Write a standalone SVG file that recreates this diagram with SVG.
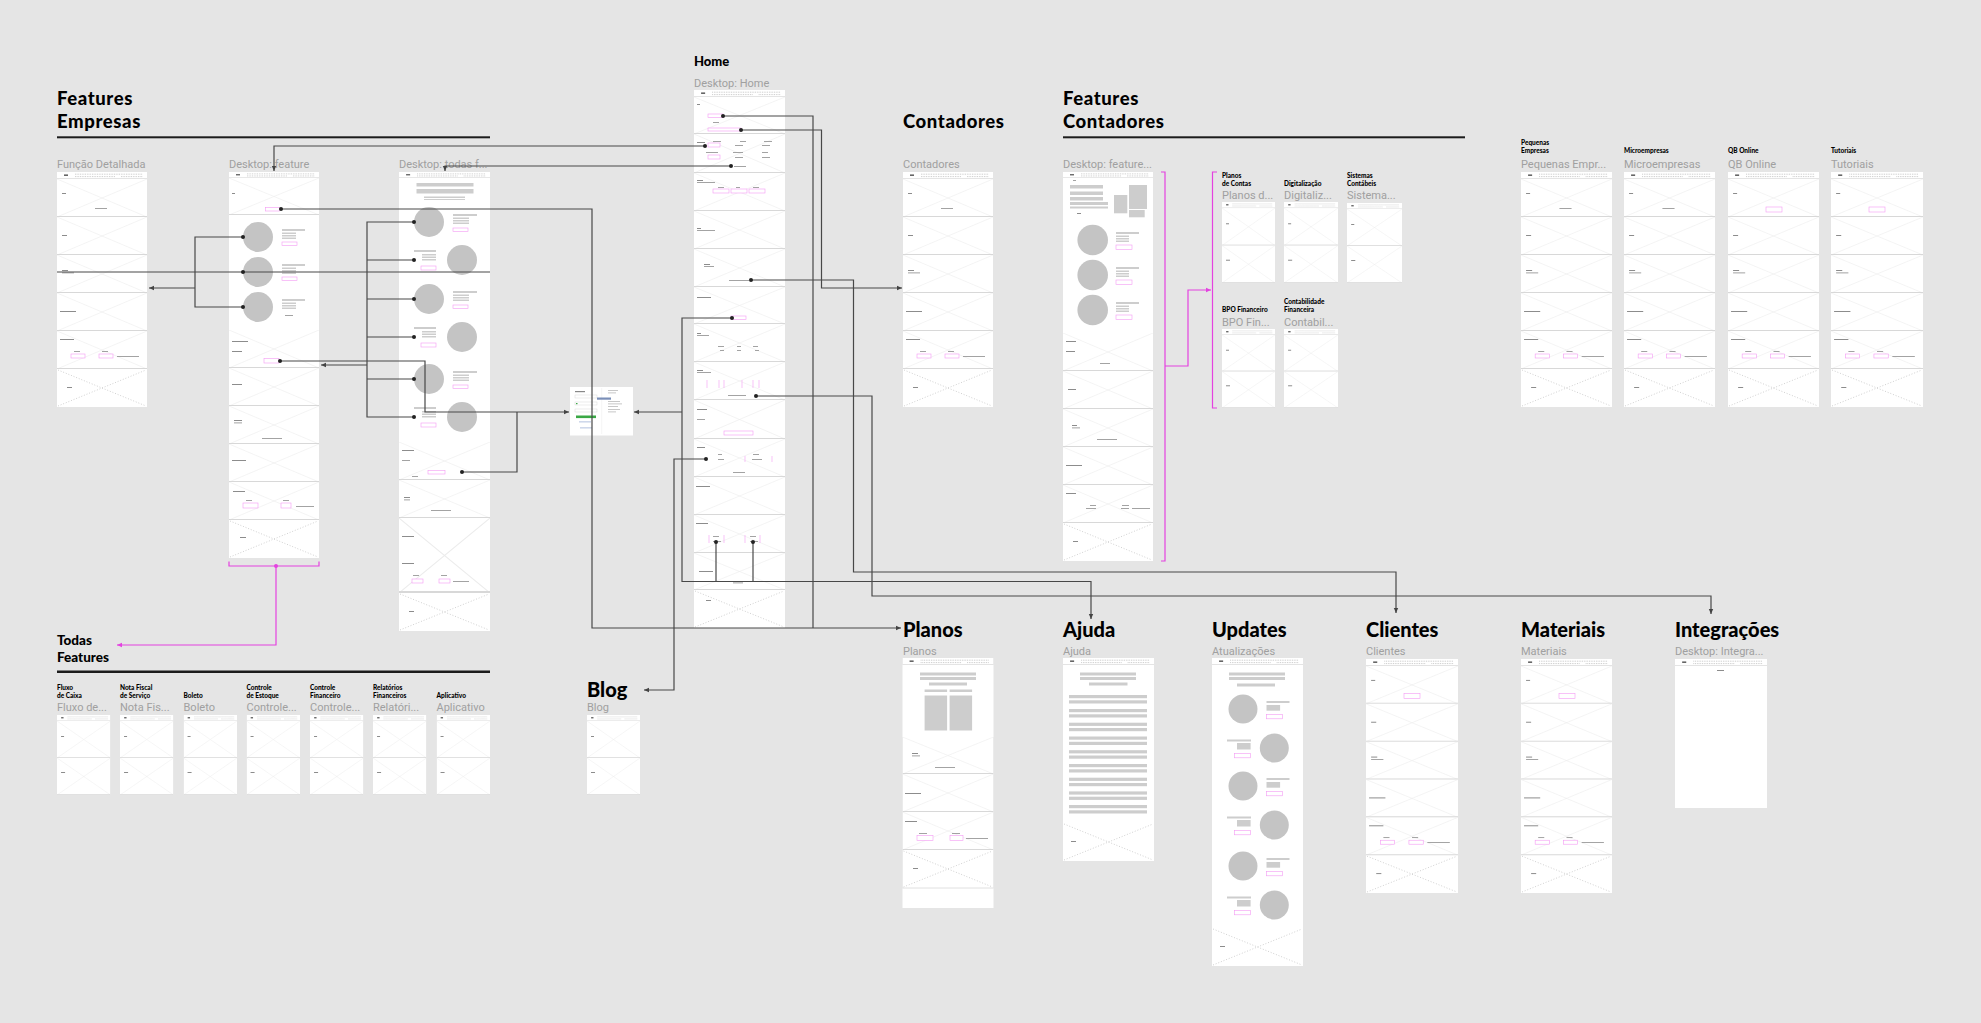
<svg xmlns="http://www.w3.org/2000/svg" width="1981" height="1023" viewBox="0 0 1981 1023">
<style>
.ttl{font-family:Lato,"Liberation Sans",sans-serif;font-weight:900;font-size:20px;fill:#000}
.tt2{font-family:Lato,"Liberation Sans",sans-serif;font-weight:900;font-size:18.5px;letter-spacing:0.6px;fill:#000}
.ttm{font-family:Lato,"Liberation Sans",sans-serif;font-weight:900;font-size:13.5px;fill:#000}
.hd6{font-family:Lato,"Liberation Sans",sans-serif;font-weight:900;font-size:6.5px;fill:#000}
.lbl{font-family:Roboto,"Liberation Sans",sans-serif;font-size:11px;fill:#a0a0a0}
.cn{fill:none;stroke:#484848;stroke-width:1.2}
.pk{fill:none;stroke:#e442e0;stroke-width:1.2}
.pb{fill:#fff;stroke:#f49af4;stroke-width:0.6}
.pt{fill:none;stroke:#f49af4;stroke-width:0.6}
.gc{fill:#c4c4c4}
.gb{fill:#cdcdcd}
.tx{fill:#8c8c8c}
.wh{fill:#fff}
.rule{fill:#1c1c1c}
</style>
<defs>
<marker id="ar" viewBox="0 0 6 6" markerWidth="6" markerHeight="6" refX="5.5" refY="3" orient="auto" markerUnits="userSpaceOnUse"><path d="M0.5 0.8L5.5 3L0.5 5.2z" fill="#444"/></marker>
<marker id="dt" viewBox="-3 -3 6 6" markerWidth="6" markerHeight="6" refX="0" refY="0" markerUnits="userSpaceOnUse"><circle r="2" fill="#222"/></marker>
<marker id="arp" viewBox="0 0 6 6" markerWidth="6" markerHeight="6" refX="5.5" refY="3" orient="auto" markerUnits="userSpaceOnUse"><path d="M0.5 0.8L5.5 3L0.5 5.2z" fill="#e442e0"/></marker>
<marker id="dtp" viewBox="-3 -3 6 6" markerWidth="6" markerHeight="6" refX="0" refY="0" markerUnits="userSpaceOnUse"><circle r="2" fill="#e442e0"/></marker>
<symbol id="hd" viewBox="0 0 90 7" preserveAspectRatio="none">
<rect width="90" height="7" fill="#fff"/>
<rect x="7" y="2.4" width="4" height="1.6" fill="#666"/>
<path d="M18 2.2H86M18 4.6H58M64 4.6H86" stroke="#bdbdbd" stroke-width="0.9" stroke-dasharray="0.8 0.9"/>
<path d="M0 6.7H90" stroke="#d0d0d0" stroke-width="0.7"/>
</symbol>
<symbol id="sec" viewBox="0 0 90 38" preserveAspectRatio="none">
<rect width="90" height="38" fill="#fff"/>
<path d="M0 0L90 38M0 38L90 0" stroke="#ececec" stroke-width="0.6"/>
<path d="M0 37.5H90" stroke="#d8d8d8" stroke-width="1"/>
</symbol>
<symbol id="ft" viewBox="0 0 90 38" preserveAspectRatio="none">
<rect width="90" height="38" fill="#fff"/>
<path d="M1 1L89 37M1 37L89 1" stroke="#bdbdbd" stroke-width="0.7" stroke-dasharray="1 1.8"/>
</symbol>
<symbol id="p6" viewBox="0 0 90 235" preserveAspectRatio="none">
<use href="#hd" width="90" height="7"/>
<use href="#sec" y="7" width="90" height="38"/>
<use href="#sec" y="45" width="90" height="38"/>
<use href="#sec" y="83" width="90" height="38"/>
<use href="#sec" y="121" width="90" height="38"/>
<use href="#sec" y="159" width="90" height="38"/>
<use href="#ft" y="197" width="90" height="38"/>
<g class="tx">
<rect x="5" y="21" width="4" height="1"/><rect x="38" y="36" width="12" height="0.8"/>
<rect x="5" y="63" width="5" height="1"/>
<rect x="5" y="98" width="6" height="1"/><rect x="5" y="100.5" width="12" height="0.8"/>
<rect x="3" y="139" width="16" height="1"/>
<rect x="3" y="167" width="14" height="1"/>
<rect x="17" y="179" width="6" height="0.8"/><rect x="45" y="179" width="6" height="0.8"/>
<rect x="60" y="184" width="22" height="0.8"/>
<rect x="10" y="215" width="5" height="1"/>
</g>
<rect class="pb" x="14" y="182" width="14" height="4"/>
<rect class="pb" x="42" y="182" width="14" height="4"/>
</symbol>
<symbol id="s2" viewBox="0 0 53 80" preserveAspectRatio="none">
<use href="#hd" width="53" height="6"/>
<use href="#sec" y="6" width="53" height="37"/>
<use href="#sec" y="43" width="53" height="37"/>
<rect class="tx" x="4" y="21" width="3" height="1"/>
<rect class="tx" x="4" y="57" width="4" height="1"/>
</symbol>
</defs>

<rect width="1981" height="1023" fill="#e5e5e5"/>

<!-- Section headers -->
<g id="hdr-features-empresas">
<text class="tt2" x="57" y="105.3">Features</text>
<text class="tt2" x="57" y="127.5">Empresas</text>
<rect class="rule" x="57" y="136.3" width="433" height="2"/>
</g>
<g id="hdr-features-contadores">
<text class="tt2" x="1063" y="105.3">Features</text>
<text class="tt2" x="1063" y="127.5">Contadores</text>
<rect class="rule" x="1063" y="136.3" width="402" height="2"/>
</g>
<g id="hdr-todas-features">
<text class="ttm" x="57" y="645">Todas</text>
<text class="ttm" x="57" y="661.5">Features</text>
<rect class="rule" x="57" y="670.5" width="433" height="2.5"/>
</g>

<!-- Features Empresas -->
<g id="node-funcao-detalhada">
<text class="lbl" x="57" y="168">Função Detalhada</text>
<use href="#p6" x="57" y="172" width="90" height="235"/>
</g>

<g id="node-desktop-feature">
<text class="lbl" x="229" y="168">Desktop: feature</text>
<use href="#hd" x="229" y="172" width="90" height="6"/>
<use href="#sec" x="229" y="178" width="90" height="37"/>
<rect class="wh" x="229" y="215" width="90" height="115"/>
<use href="#sec" x="229" y="330" width="90" height="38"/>
<use href="#sec" x="229" y="368" width="90" height="38"/>
<use href="#sec" x="229" y="406" width="90" height="38"/>
<use href="#sec" x="229" y="444" width="90" height="38"/>
<use href="#sec" x="229" y="482" width="90" height="38"/>
<use href="#ft" x="229" y="520" width="90" height="38"/>
<circle class="gc" cx="258" cy="237" r="15"/>
<circle class="gc" cx="258" cy="272" r="15"/>
<circle class="gc" cx="258" cy="307" r="15"/>
<g class="gb">
<rect x="282" y="229" width="23" height="2"/><rect x="282" y="232.5" width="14" height="1.5"/><rect x="282" y="235" width="14" height="1.5"/><rect x="282" y="237.5" width="14" height="1.5"/>
<rect x="282" y="264" width="23" height="2"/><rect x="282" y="267.5" width="14" height="1.5"/><rect x="282" y="270" width="14" height="1.5"/><rect x="282" y="272.5" width="14" height="1.5"/>
<rect x="282" y="299" width="23" height="2"/><rect x="282" y="302.5" width="14" height="1.5"/><rect x="282" y="305" width="14" height="1.5"/><rect x="282" y="307.5" width="14" height="1.5"/>
</g>
<rect class="pb" x="282" y="242" width="15" height="3.5"/>
<rect class="pb" x="282" y="277" width="15" height="3.5"/>
<g class="tx">
<rect x="232" y="193" width="3" height="1"/><rect x="268" y="209" width="8" height="0.8"/>
<rect x="285" y="315" width="8" height="0.8"/>
<rect x="232" y="341" width="16" height="1"/><rect x="232" y="351" width="10" height="1"/>
<rect x="232" y="384" width="10" height="1"/>
<rect x="234" y="420" width="8" height="1"/><rect x="234" y="422.5" width="8" height="0.8"/><rect x="262" y="438" width="20" height="0.8"/>
<rect x="232" y="460" width="14" height="1"/>
<rect x="233" y="491" width="12" height="1"/><rect x="246" y="500" width="6" height="0.8"/><rect x="283" y="500" width="6" height="0.8"/><rect x="296" y="506" width="18" height="0.8"/>
<rect x="240" y="537" width="6" height="1"/>
</g>
<rect class="pb" x="265.5" y="207.5" width="14" height="3.5"/>
<rect class="pb" x="264" y="358.5" width="15" height="4.5"/>
<rect class="pb" x="243" y="503" width="15" height="5"/>
<rect class="pb" x="281" y="503" width="10" height="5"/>
</g>

<g id="node-desktop-todas">
<text class="lbl" x="399" y="168">Desktop: todas f...</text>
<use href="#hd" x="399" y="172" width="91" height="6"/>
<rect class="wh" x="399" y="178" width="91" height="264"/>
<use href="#sec" x="399" y="442" width="91" height="38"/>
<use href="#sec" x="399" y="480" width="91" height="38"/>
<use href="#sec" x="399" y="518" width="91" height="75"/>
<use href="#ft" x="399" y="593" width="91" height="38"/>
<g class="gb">
<rect x="416.5" y="183" width="57" height="3.5"/><rect x="416.5" y="189" width="57" height="4.5"/>
<rect x="424" y="196.5" width="41" height="1.5"/><rect x="424" y="199" width="41" height="1"/>
</g>
<circle class="gc" cx="429" cy="222" r="15"/>
<circle class="gc" cx="462" cy="260" r="15"/>
<circle class="gc" cx="429" cy="299" r="15"/>
<circle class="gc" cx="462" cy="337" r="15"/>
<circle class="gc" cx="429" cy="379" r="15"/>
<circle class="gc" cx="462" cy="417" r="15"/>
<g class="gb">
<rect x="453" y="214" width="24" height="2"/><rect x="453" y="217.5" width="16" height="1.5"/><rect x="453" y="220" width="16" height="1.5"/><rect x="453" y="222.5" width="16" height="1.5"/>
<rect x="453" y="291" width="24" height="2"/><rect x="453" y="294.5" width="16" height="1.5"/><rect x="453" y="297" width="16" height="1.5"/><rect x="453" y="299.5" width="16" height="1.5"/>
<rect x="453" y="371" width="24" height="2"/><rect x="453" y="374.5" width="16" height="1.5"/><rect x="453" y="377" width="16" height="1.5"/><rect x="453" y="379.5" width="16" height="1.5"/>
<rect x="414" y="250" width="22" height="2"/><rect x="422" y="254" width="14" height="1.5"/><rect x="422" y="256.5" width="14" height="1.5"/><rect x="422" y="259" width="14" height="1.5"/>
<rect x="414" y="327" width="22" height="2"/><rect x="422" y="331" width="14" height="1.5"/><rect x="422" y="333.5" width="14" height="1.5"/><rect x="422" y="336" width="14" height="1.5"/>
<rect x="414" y="407" width="22" height="2"/><rect x="422" y="411" width="14" height="1.5"/><rect x="422" y="413.5" width="14" height="1.5"/><rect x="422" y="416" width="14" height="1.5"/>
</g>
<rect class="pb" x="453" y="228" width="15" height="3.5"/>
<rect class="pb" x="453" y="305" width="15" height="3.5"/>
<rect class="pb" x="453" y="385" width="15" height="3.5"/>
<rect class="pb" x="421" y="266" width="15" height="4"/>
<rect class="pb" x="421" y="343" width="15" height="4"/>
<rect class="pb" x="421" y="423" width="15" height="4"/>
<g class="tx">
<rect x="402" y="450" width="12" height="1"/><rect x="402" y="460" width="8" height="0.8"/>
<rect x="412" y="476" width="6" height="0.8"/>
<rect x="404" y="497" width="6" height="1"/><rect x="404" y="499.5" width="6" height="0.8"/><rect x="431" y="510" width="20" height="0.8"/>
<rect x="402" y="536" width="12" height="1"/><rect x="402" y="563" width="12" height="1"/>
<rect x="413" y="575" width="6" height="0.8"/><rect x="441" y="575" width="6" height="0.8"/><rect x="453" y="581" width="16" height="0.8"/>
<rect x="409" y="611" width="5" height="1"/>
</g>
<rect class="pb" x="428" y="470.5" width="17" height="3.5"/>
<rect class="pb" x="412" y="579" width="11" height="4"/>
<rect class="pb" x="439" y="579" width="11" height="4"/>
</g>

<g id="node-modal">
<rect x="570" y="387" width="63" height="48.5" fill="#fff"/>
<path d="M601.7 388V434" stroke="#eeeeee" stroke-width="0.6"/>
<rect x="575" y="391" width="10" height="1.2" fill="#888"/>
<rect x="575" y="395" width="22" height="3" fill="#fff" stroke="#cfcfcf" stroke-width="0.4"/>
<rect x="575" y="402" width="22" height="3" fill="#fff" stroke="#cfcfcf" stroke-width="0.4"/>
<rect x="575" y="409" width="22" height="3" fill="#fff" stroke="#cfcfcf" stroke-width="0.4"/>
<rect x="576" y="403" width="1.5" height="1.2" fill="#3aa845"/>
<rect x="576" y="415.5" width="20" height="2.6" fill="#3aa845"/>
<rect x="579" y="421.5" width="12" height="0.8" fill="#9fb2d8"/>
<rect x="580" y="427.5" width="12" height="0.8" fill="#9fb2d8"/>
<rect x="597" y="397.5" width="14" height="2.2" fill="#7b8fb8"/>
<g fill="#b9b9b9"><rect x="608" y="390" width="10" height="0.8"/><rect x="608" y="392.5" width="8" height="0.8"/><rect x="608" y="401" width="12" height="0.8"/><rect x="608" y="403.5" width="14" height="0.8"/><rect x="608" y="406" width="10" height="0.8"/><rect x="608" y="409" width="12" height="0.8"/><rect x="608" y="411.5" width="8" height="0.8"/></g>
</g>

<!-- Home -->
<g id="node-home">
<text class="ttm" x="694" y="66" style="font-size:13px">Home</text>
<text class="lbl" x="694" y="86.5">Desktop: Home</text>
<use href="#hd" x="694" y="90" width="91" height="7"/>
<use href="#sec" x="694" y="97" width="91" height="37"/>
<use href="#sec" x="694" y="134" width="91" height="39"/>
<use href="#sec" x="694" y="173" width="91" height="38"/>
<use href="#sec" x="694" y="211" width="91" height="38"/>
<use href="#sec" x="694" y="249" width="91" height="38"/>
<use href="#sec" x="694" y="287" width="91" height="37"/>
<use href="#sec" x="694" y="324" width="91" height="38"/>
<use href="#sec" x="694" y="362" width="91" height="38"/>
<use href="#sec" x="694" y="400" width="91" height="39"/>
<use href="#sec" x="694" y="439" width="91" height="38"/>
<use href="#sec" x="694" y="477" width="91" height="38"/>
<use href="#sec" x="694" y="515" width="91" height="38"/>
<use href="#sec" x="694" y="553" width="91" height="37"/>
<use href="#ft" x="694" y="590" width="91" height="38"/>
<g class="tx">
<rect x="697" y="104" width="3" height="1"/><rect x="713" y="122" width="6" height="0.8"/><rect x="716" y="129" width="14" height="0.8"/>
<rect x="697" y="142" width="8" height="1"/><rect x="713" y="141" width="8" height="0.8"/><rect x="740" y="141" width="6" height="0.8"/><rect x="764" y="141" width="8" height="0.8"/>
<rect x="735" y="145" width="8" height="0.8"/><rect x="762" y="145" width="8" height="0.8"/>
<rect x="706" y="152" width="12" height="0.8"/><rect x="733" y="152" width="10" height="0.8"/><rect x="762" y="152" width="6" height="0.8"/>
<rect x="735" y="157" width="8" height="0.8"/><rect x="762" y="157" width="8" height="0.8"/><rect x="734" y="166" width="12" height="0.8"/>
<rect x="697" y="180" width="6" height="1"/><rect x="697" y="182" width="18" height="0.8"/>
<rect x="718" y="187" width="6" height="0.8"/><rect x="736" y="187" width="4" height="0.8"/><rect x="753" y="187" width="6" height="0.8"/>
<rect x="697" y="228" width="4" height="1"/><rect x="697" y="230" width="18" height="0.8"/>
<rect x="704" y="264" width="6" height="1"/><rect x="704" y="266" width="10" height="0.8"/><rect x="729" y="280" width="20" height="0.8"/>
<rect x="697" y="297" width="14" height="1"/>
<rect x="697" y="333" width="4" height="1"/><rect x="697" y="335" width="12" height="0.8"/>
<rect x="718" y="346" width="6" height="0.8"/><rect x="737" y="346" width="4" height="0.8"/><rect x="753" y="346" width="5" height="0.8"/>
<rect x="720" y="350" width="4" height="0.8"/><rect x="737" y="350" width="4" height="0.8"/><rect x="755" y="350" width="4" height="0.8"/>
<rect x="697" y="370" width="6" height="1"/><rect x="697" y="372" width="14" height="0.8"/><rect x="728" y="395" width="18" height="0.8"/>
<rect x="697" y="409" width="10" height="1"/><rect x="697" y="419" width="8" height="0.8"/>
<rect x="697" y="447" width="8" height="1"/><rect x="718" y="454" width="4" height="0.8"/><rect x="753" y="454" width="6" height="0.8"/>
<rect x="718" y="459" width="6" height="0.8"/><rect x="752" y="459" width="10" height="0.8"/><rect x="733" y="472" width="12" height="0.8"/>
<rect x="696" y="486" width="14" height="1"/>
<rect x="696" y="523" width="12" height="1"/><rect x="713" y="536" width="6" height="0.8"/><rect x="750" y="536" width="6" height="0.8"/>
<rect x="713" y="541" width="8" height="0.8"/><rect x="750" y="541" width="8" height="0.8"/>
<rect x="699" y="571" width="14" height="1"/><rect x="733" y="582.5" width="10" height="0.8"/>
<rect x="706" y="600" width="5" height="1"/>
</g>
<rect class="pb" x="708" y="114" width="15" height="3.5"/>
<rect class="pb" x="708" y="128" width="33" height="3"/>
<rect class="pb" x="708" y="143" width="12" height="4"/>
<rect class="pb" x="708" y="155" width="12" height="4"/>
<rect class="pb" x="713" y="189" width="16" height="4"/>
<rect class="pb" x="731" y="189" width="16" height="4"/>
<rect class="pb" x="749" y="189" width="16" height="4"/>
<rect class="pb" x="731" y="316" width="15" height="3.5"/>
<rect class="pb" x="724" y="431" width="29" height="4"/>
<path class="pt" d="M707 380V388M719 380V388M724 380V388M742 380V388M753 380V388M759 380V388M745 456V462M772 456V462M709 535V543M724 535V543M745 535V543M760 535V543"/>
</g>

<!-- Contadores -->
<g id="node-contadores">
<text class="tt2" x="903" y="127.5">Contadores</text>
<text class="lbl" x="903" y="168">Contadores</text>
<use href="#p6" x="903" y="172" width="90" height="235"/>
</g>

<!-- Features Contadores -->
<g id="node-desktop-feature-contadores">
<text class="lbl" x="1063" y="168">Desktop: feature...</text>
<use href="#hd" x="1063" y="172" width="90" height="6"/>
<rect class="wh" x="1063" y="178" width="90" height="155"/>
<use href="#sec" x="1063" y="333" width="90" height="38"/>
<use href="#sec" x="1063" y="371" width="90" height="38"/>
<use href="#sec" x="1063" y="409" width="90" height="38"/>
<use href="#sec" x="1063" y="447" width="90" height="38"/>
<use href="#sec" x="1063" y="485" width="90" height="38"/>
<use href="#ft" x="1063" y="523" width="90" height="38"/>
<g class="gb">
<rect x="1070" y="185" width="33" height="3.5"/><rect x="1070" y="191.5" width="33" height="3.5"/><rect x="1070" y="197" width="33" height="3.5"/>
<rect x="1070" y="202" width="38" height="3"/><rect x="1070" y="206.5" width="38" height="2"/>
<rect x="1114" y="195" width="13.3" height="18.3"/><rect x="1129" y="185" width="18" height="24"/><rect x="1129" y="210" width="15.7" height="7.3"/>
<rect x="1116" y="232" width="23" height="2"/><rect x="1116" y="235.5" width="13" height="1.5"/><rect x="1116" y="238" width="13" height="1.5"/><rect x="1116" y="240.5" width="13" height="1.5"/>
<rect x="1116" y="267" width="23" height="2"/><rect x="1116" y="270.5" width="13" height="1.5"/><rect x="1116" y="273" width="13" height="1.5"/><rect x="1116" y="275.5" width="13" height="1.5"/>
<rect x="1116" y="302" width="23" height="2"/><rect x="1116" y="305.5" width="13" height="1.5"/><rect x="1116" y="308" width="13" height="1.5"/><rect x="1116" y="310.5" width="13" height="1.5"/>
</g>
<circle class="gc" cx="1092.7" cy="240" r="15.3"/>
<circle class="gc" cx="1092.7" cy="275" r="15.3"/>
<circle class="gc" cx="1092.7" cy="310" r="15.3"/>
<rect class="pb" x="1116" y="245" width="16" height="4.5"/>
<rect class="pb" x="1116" y="280" width="16" height="4.5"/>
<rect class="pb" x="1116" y="315" width="16" height="4.5"/>
<g class="tx">
<rect x="1073" y="180" width="3" height="0.8"/><rect x="1077" y="213" width="4" height="1"/>
<rect x="1066" y="341" width="10" height="1"/><rect x="1066" y="351" width="9" height="1"/><rect x="1100" y="363" width="10" height="0.8"/>
<rect x="1068" y="389" width="8" height="1"/>
<rect x="1072" y="425" width="5" height="1"/><rect x="1072" y="427.5" width="8" height="0.8"/><rect x="1097" y="439" width="20" height="0.8"/>
<rect x="1066" y="465" width="16" height="1"/>
<rect x="1066" y="493" width="10" height="1"/><rect x="1090" y="505" width="6" height="0.8"/><rect x="1086" y="508" width="10" height="0.8"/><rect x="1122" y="505" width="7" height="0.8"/><rect x="1121" y="508" width="8" height="0.8"/><rect x="1132" y="508" width="18" height="0.8"/>
<rect x="1073" y="541" width="5" height="1"/>
</g>
</g>

<g id="node-planos-de-contas">
<text class="hd6" x="1222" y="177.5">Planos</text>
<text class="hd6" x="1222" y="185.5">de Contas</text>
<text class="lbl" x="1222" y="199">Planos d...</text>
<use href="#s2" x="1222" y="202" width="53" height="81"/>
</g>
<g id="node-digitalizacao">
<text class="hd6" x="1284" y="185.5">Digitalização</text>
<text class="lbl" x="1284" y="199">Digitaliz...</text>
<use href="#s2" x="1284" y="202" width="54" height="81"/>
</g>
<g id="node-sistemas-contabeis">
<text class="hd6" x="1347" y="177.5">Sistemas</text>
<text class="hd6" x="1347" y="185.5">Contábeis</text>
<text class="lbl" x="1347" y="199">Sistema...</text>
<use href="#s2" x="1347" y="203" width="55" height="80"/>
</g>
<g id="node-bpo-financeiro">
<text class="hd6" x="1222" y="311.5">BPO Financeiro</text>
<text class="lbl" x="1222" y="326">BPO Fin...</text>
<use href="#s2" x="1222" y="329" width="53" height="79"/>
</g>
<g id="node-contabilidade-financeira">
<text class="hd6" x="1284" y="303.5">Contabilidade</text>
<text class="hd6" x="1284" y="311.5">Financeira</text>
<text class="lbl" x="1284" y="326">Contabil...</text>
<use href="#s2" x="1284" y="329" width="54" height="79"/>
</g>

<!-- Right group -->
<g id="node-pequenas-empresas">
<text class="hd6" x="1521" y="145">Pequenas</text>
<text class="hd6" x="1521" y="153">Empresas</text>
<text class="lbl" x="1521" y="168">Pequenas Empr...</text>
<use href="#p6" x="1521" y="172" width="91" height="235"/>
</g>
<g id="node-microempresas">
<text class="hd6" x="1624" y="153">Microempresas</text>
<text class="lbl" x="1624" y="168">Microempresas</text>
<use href="#p6" x="1624" y="172" width="91" height="235"/>
</g>
<g id="node-qb-online">
<text class="hd6" x="1728" y="153">QB Online</text>
<text class="lbl" x="1728" y="168">QB Online</text>
<use href="#p6" x="1728" y="172" width="91" height="235"/>
<rect class="pb" x="1766" y="207" width="16" height="5"/>
</g>
<g id="node-tutoriais">
<text class="hd6" x="1831" y="153">Tutoriais</text>
<text class="lbl" x="1831" y="168">Tutoriais</text>
<use href="#p6" x="1831" y="172" width="92" height="235"/>
<rect class="pb" x="1869" y="207" width="16" height="5"/>
</g>

<!-- Todas features -->
<g id="node-fluxo-de-caixa">
<text class="hd6" x="57" y="689.5">Fluxo</text><text class="hd6" x="57" y="697.5">de Caixa</text>
<text class="lbl" x="57" y="711">Fluxo de...</text>
<use href="#s2" x="57" y="715" width="53.5" height="80"/>
</g>
<g id="node-nota-fiscal">
<text class="hd6" x="120" y="689.5">Nota Fiscal</text><text class="hd6" x="120" y="697.5">de Serviço</text>
<text class="lbl" x="120" y="711">Nota Fis...</text>
<use href="#s2" x="120" y="715" width="53.5" height="80"/>
</g>
<g id="node-boleto">
<text class="hd6" x="183.5" y="697.5">Boleto</text>
<text class="lbl" x="183.5" y="711">Boleto</text>
<use href="#s2" x="183.5" y="715" width="53.5" height="80"/>
</g>
<g id="node-controle-estoque">
<text class="hd6" x="246.5" y="689.5">Controle</text><text class="hd6" x="246.5" y="697.5">de Estoque</text>
<text class="lbl" x="246.5" y="711">Controle...</text>
<use href="#s2" x="246.5" y="715" width="53.5" height="80"/>
</g>
<g id="node-controle-financeiro">
<text class="hd6" x="310" y="689.5">Controle</text><text class="hd6" x="310" y="697.5">Financeiro</text>
<text class="lbl" x="310" y="711">Controle...</text>
<use href="#s2" x="310" y="715" width="53.5" height="80"/>
</g>
<g id="node-relatorios">
<text class="hd6" x="373" y="689.5">Relatórios</text><text class="hd6" x="373" y="697.5">Financeiros</text>
<text class="lbl" x="373" y="711">Relatóri...</text>
<use href="#s2" x="373" y="715" width="53.5" height="80"/>
</g>
<g id="node-aplicativo">
<text class="hd6" x="436.5" y="697.5">Aplicativo</text>
<text class="lbl" x="436.5" y="711">Aplicativo</text>
<use href="#s2" x="436.5" y="715" width="53.5" height="80"/>
</g>

<g id="node-blog">
<text class="ttl" x="587" y="697">Blog</text>
<text class="lbl" x="587" y="711">Blog</text>
<use href="#s2" x="587" y="715" width="53" height="80"/>
</g>

<!-- Bottom row -->
<g id="node-planos">
<text class="ttl" x="903" y="637">Planos</text>
<text class="lbl" x="903" y="655">Planos</text>
<use href="#hd" x="902.5" y="658" width="91" height="7"/>
<rect class="wh" x="902.5" y="665" width="91" height="72"/>
<use href="#sec" x="902.5" y="737" width="91" height="37"/>
<use href="#sec" x="902.5" y="774" width="91" height="38"/>
<use href="#sec" x="902.5" y="812" width="91" height="38"/>
<use href="#ft" x="902.5" y="850" width="91" height="38"/>
<rect class="wh" x="902.5" y="888" width="91" height="20"/>
<path d="M902.5 888H993.5" stroke="#d8d8d8" stroke-width="0.8"/>
<g class="gb">
<rect x="920" y="672.5" width="56" height="3"/><rect x="920" y="677" width="56" height="3"/><rect x="929" y="682.5" width="38" height="3"/>
<rect x="924.6" y="689.5" width="22.5" height="2.5"/><rect x="949.6" y="689.5" width="22.5" height="2.5"/>
<rect x="924.6" y="695.5" width="22.5" height="35"/><rect x="949.6" y="695.5" width="22.5" height="35"/>
</g>
<g class="tx">
<rect x="912" y="753" width="6" height="1"/><rect x="912" y="755.5" width="8" height="0.8"/><rect x="935" y="767" width="20" height="0.8"/>
<rect x="905" y="793" width="16" height="1"/>
<rect x="905" y="821" width="12" height="1"/><rect x="919" y="833" width="8" height="0.8"/><rect x="952" y="833" width="8" height="0.8"/><rect x="966" y="838" width="22" height="0.8"/>
<rect x="913" y="868" width="5" height="1"/>
</g>
<rect class="pb" x="917" y="835.5" width="16" height="5"/>
<rect class="pb" x="950" y="835.5" width="13" height="5"/>
</g>

<g id="node-ajuda">
<text class="ttl" x="1063" y="637">Ajuda</text>
<text class="lbl" x="1063" y="655">Ajuda</text>
<use href="#hd" x="1063" y="658" width="91" height="7"/>
<rect class="wh" x="1063" y="665" width="91" height="158"/>
<use href="#ft" x="1063" y="823" width="91" height="38"/>
<g class="gb">
<rect x="1080" y="672.5" width="56" height="3"/><rect x="1080" y="677" width="56" height="3"/><rect x="1089" y="682.5" width="38.5" height="3"/>
<rect x="1069" y="695" width="78" height="3.2"/><rect x="1069" y="700.3" width="78" height="3.2"/>
<rect x="1069" y="709" width="78" height="3.2"/><rect x="1069" y="714.3" width="78" height="3.2"/>
<rect x="1069" y="722.7" width="78" height="3.2"/><rect x="1069" y="728" width="78" height="3.2"/>
<rect x="1069" y="736.5" width="78" height="3.2"/><rect x="1069" y="741.8" width="78" height="3.2"/>
<rect x="1069" y="750.2" width="78" height="3.2"/><rect x="1069" y="755.5" width="78" height="3.2"/>
<rect x="1069" y="764" width="78" height="3.2"/><rect x="1069" y="769.3" width="78" height="3.2"/>
<rect x="1069" y="777.7" width="78" height="3.2"/><rect x="1069" y="783" width="78" height="3.2"/>
<rect x="1069" y="791.4" width="78" height="3.2"/><rect x="1069" y="796.7" width="78" height="3.2"/>
<rect x="1069" y="805" width="78" height="3.2"/><rect x="1069" y="810.3" width="78" height="3.2"/>
</g>
<rect class="tx" x="1071" y="841" width="5" height="1"/>
</g>

<g id="node-updates">
<text class="ttl" x="1212" y="637">Updates</text>
<text class="lbl" x="1212" y="655">Atualizações</text>
<use href="#hd" x="1212" y="658" width="91" height="7"/>
<rect class="wh" x="1212" y="665" width="91" height="263"/>
<use href="#ft" x="1212" y="928" width="91" height="38"/>
<g class="gb">
<rect x="1229" y="672.5" width="56" height="3"/><rect x="1229" y="677" width="56" height="3"/><rect x="1237" y="683.5" width="38" height="3"/>
<rect x="1266.5" y="701" width="23" height="2"/><rect x="1266.5" y="705" width="13.6" height="5.7"/>
<rect x="1266.5" y="778" width="23" height="2"/><rect x="1266.5" y="782" width="13.6" height="5.7"/>
<rect x="1266.5" y="858" width="23" height="2"/><rect x="1266.5" y="862" width="13.6" height="5.7"/>
<rect x="1227" y="739.5" width="24" height="2"/><rect x="1237" y="743" width="13.6" height="6.5"/>
<rect x="1227" y="816.5" width="24" height="2"/><rect x="1237" y="820" width="13.6" height="6.5"/>
<rect x="1227" y="896.5" width="24" height="2"/><rect x="1237" y="900" width="13.6" height="6.5"/>
</g>
<circle class="gc" cx="1243" cy="709" r="14.5"/>
<circle class="gc" cx="1274.3" cy="748" r="14.5"/>
<circle class="gc" cx="1243" cy="786" r="14.5"/>
<circle class="gc" cx="1274.3" cy="825" r="14.5"/>
<circle class="gc" cx="1243" cy="866" r="14.5"/>
<circle class="gc" cx="1274.3" cy="905" r="14.5"/>
<rect class="pb" x="1266.5" y="714.3" width="16" height="4.5"/>
<rect class="pb" x="1266.5" y="791.3" width="16" height="4.5"/>
<rect class="pb" x="1266.5" y="871.3" width="16" height="4.5"/>
<rect class="pb" x="1234.6" y="753.5" width="16" height="4.3"/>
<rect class="pb" x="1234.6" y="830.5" width="16" height="4.3"/>
<rect class="pb" x="1234.6" y="910.5" width="16" height="4.3"/>
<rect class="tx" x="1220" y="946" width="5" height="1"/>
</g>

<g id="node-clientes">
<text class="ttl" x="1366" y="637">Clientes</text>
<text class="lbl" x="1366" y="655">Clientes</text>
<use href="#p6" x="1366" y="659" width="92" height="234"/>
<rect class="pb" x="1404" y="693.5" width="16" height="5"/>
</g>
<g id="node-materiais">
<text class="ttl" x="1521" y="637">Materiais</text>
<text class="lbl" x="1521" y="655">Materiais</text>
<use href="#p6" x="1521" y="659" width="91" height="234"/>
<rect class="pb" x="1559" y="693.5" width="16" height="5"/>
</g>
<g id="node-integracoes">
<text class="ttl" x="1675" y="637">Integrações</text>
<text class="lbl" x="1675" y="655">Desktop: Integra...</text>
<use href="#hd" x="1675" y="659" width="92" height="7"/>
<rect class="wh" x="1675" y="666" width="92" height="142"/>
<rect class="tx" x="1717" y="670" width="7" height="1"/>
</g>

<!-- Connectors -->
<g id="connectors">
<path class="cn" d="M705 146H274V171" marker-start="url(#dt)" marker-end="url(#ar)"/>
<path class="cn" d="M731 166H445V171" marker-start="url(#dt)" marker-end="url(#ar)"/>
<path class="cn" d="M723 116H813V628" marker-start="url(#dt)"/>
<path class="cn" d="M281 209H592V628H901" marker-start="url(#dt)" marker-end="url(#ar)"/>
<path class="cn" d="M741 130H821.5V288H902" marker-start="url(#dt)" marker-end="url(#ar)"/>
<path class="cn" d="M751 280H853.5V572H1396V613" marker-start="url(#dt)" marker-end="url(#ar)"/>
<path class="cn" d="M756 396H872V596H1711V614" marker-start="url(#dt)" marker-end="url(#ar)"/>
<path class="cn" d="M732 318H682V581.5H1091V619" marker-start="url(#dt)" marker-end="url(#ar)"/>
<path class="cn" d="M682 412H634" marker-end="url(#ar)"/>
<path class="cn" d="M716 542V581" marker-start="url(#dt)"/>
<path class="cn" d="M753 542V581" marker-start="url(#dt)"/>
<path class="cn" d="M706 459H674V690H644" marker-start="url(#dt)" marker-end="url(#ar)"/>
<path class="cn" d="M57 272H490"/>
<circle cx="243" cy="272" r="2" fill="#222"/>
<path class="cn" d="M243 237H195V307H243" marker-start="url(#dt)" marker-end="url(#dt)"/>
<path class="cn" d="M195 288H149" marker-end="url(#ar)"/>
<path class="cn" d="M414 222H367V417H414" marker-start="url(#dt)" marker-end="url(#dt)"/>
<path class="cn" d="M414 260H367M414 299H367M414 337H367M414 379H367"/>
<circle cx="414" cy="260" r="2" fill="#222"/><circle cx="414" cy="299" r="2" fill="#222"/><circle cx="414" cy="337" r="2" fill="#222"/><circle cx="414" cy="379" r="2" fill="#222"/>
<path class="cn" d="M367 365H321" marker-end="url(#ar)"/>
<path class="cn" d="M280 361H425V412H569" marker-start="url(#dt)" marker-end="url(#ar)"/>
<path class="cn" d="M462 472H517V412" marker-start="url(#dt)"/>
<path class="pk" d="M229 561.5V566H319V561.5"/>
<path class="pk" d="M276 566V645H117" marker-start="url(#dtp)" marker-end="url(#arp)"/>
<path class="pk" d="M1161 172H1165V561H1161"/>
<path class="pk" d="M1165 366H1188V290H1211" marker-end="url(#arp)"/>
<path class="pk" d="M1217 172H1212.5V408H1217"/>
</g>
</svg>
